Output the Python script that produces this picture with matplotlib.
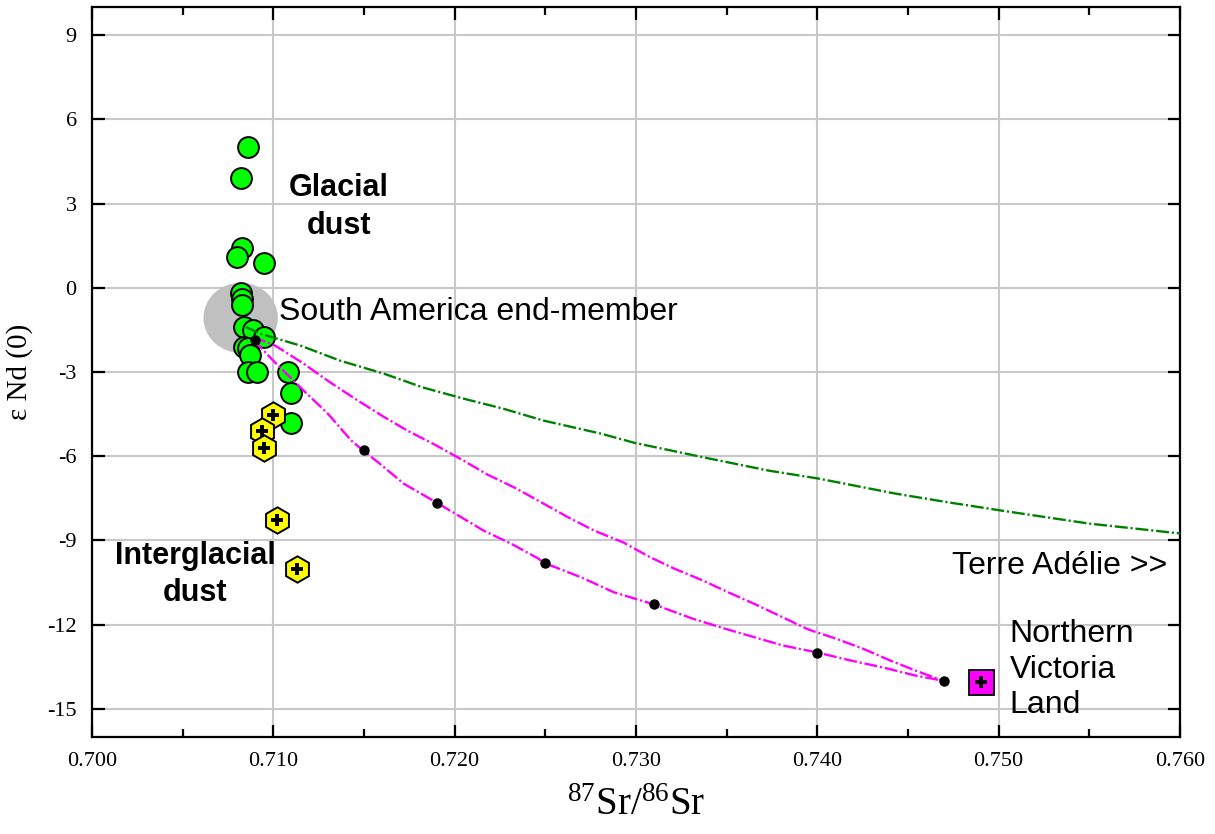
import matplotlib
matplotlib.use("Agg")
from matplotlib import pyplot as plt
from matplotlib.patches import Ellipse

# glacial dust samples (87Sr/86Sr, eps Nd)
glacial_sr = [0.7086, 0.7082, 0.7083, 0.7080, 0.7095, 0.7082, 0.7083, 0.7083,
              0.7084, 0.7089, 0.7095, 0.7084, 0.7086, 0.7087, 0.7086, 0.7091,
              0.7108, 0.7110, 0.7110]
glacial_nd = [5.0, 3.9, 1.4, 1.1, 0.9, -0.2, -0.4, -0.6,
              -1.4, -1.5, -1.75, -2.1, -2.15, -2.4, -3.0, -3.0,
              -3.0, -3.75, -4.8]

# interglacial dust samples
inter_sr = [0.7100, 0.70935, 0.70946, 0.71023, 0.71128]
inter_nd = [-4.52, -5.09, -5.69, -8.26, -10.0]

# Northern Victoria Land source
nvl_sr = [0.749]
nvl_nd = [-14.05]

# mixing line to Terre Adelie
green_sr = [0.7085, 0.7093, 0.7115, 0.7137, 0.7161, 0.7183, 0.7205, 0.7227,
            0.7249, 0.7281, 0.7299, 0.7338, 0.7373, 0.7401, 0.7443, 0.7473,
            0.7502, 0.7550, 0.7600]
green_nd = [-1.4, -1.64, -2.06, -2.60, -3.06, -3.56, -3.95, -4.31,
            -4.73, -5.20, -5.52, -6.05, -6.51, -6.80, -7.33, -7.65,
            -7.94, -8.40, -8.75]

# mixing lines to Northern Victoria Land
upper_sr = [0.7089, 0.7101, 0.7116, 0.7130, 0.7145, 0.7160, 0.7174, 0.7190,
            0.7205, 0.7218, 0.7234, 0.7248, 0.7263, 0.7277, 0.7293, 0.7307,
            0.7321, 0.7337, 0.7351, 0.7366, 0.7381, 0.7395, 0.7410, 0.7425,
            0.7440, 0.7454, 0.7469]
upper_nd = [-1.75, -2.06, -2.67, -3.31, -3.95, -4.56, -5.09, -5.62,
            -6.16, -6.65, -7.15, -7.65, -8.19, -8.65, -9.07, -9.57,
            -10.0, -10.43, -10.85, -11.28, -11.74, -12.17, -12.49, -12.85,
            -13.27, -13.63, -13.99]

lower_sr = [0.7089, 0.7100, 0.7118, 0.7130, 0.7143, 0.7149, 0.7158, 0.7172,
            0.7190, 0.7202, 0.7216, 0.7231, 0.7246, 0.7249, 0.7270, 0.7288,
            0.7310, 0.7331, 0.7349, 0.7366, 0.7381, 0.7400, 0.7418, 0.7436,
            0.7454, 0.7469]
lower_nd = [-1.85, -2.60, -3.74, -4.48, -5.44, -5.77, -6.23, -6.98,
            -7.65, -8.11, -8.65, -9.11, -9.64, -9.79, -10.32, -10.85,
            -11.28, -11.78, -12.14, -12.46, -12.74, -12.99, -13.27, -13.52,
            -13.81, -13.99]

dots_sr = [0.709, 0.715, 0.719, 0.725, 0.731, 0.740, 0.747]
dots_nd = [-1.85, -5.77, -7.65, -9.79, -11.28, -13.0, -14.0]

xticks = [0.700, 0.710, 0.720, 0.730, 0.740, 0.750, 0.760]
xtick_labels = ["0.700", "0.710", "0.720", "0.730", "0.740", "0.750", "0.760"]
yticks = [9, 6, 3, 0, -3, -6, -9, -12, -15]
ytick_labels = ["9", "6", "3", "0", "-3", "-6", "-9", "-12", "-15"]

plt.rcParams['mathtext.fontset'] = 'custom'
plt.rcParams['mathtext.rm'] = 'Liberation Serif'
plt.rcParams['mathtext.it'] = 'Liberation Serif:italic'

fig = plt.figure(figsize=(12.15, 8.34), dpi=100)
ax = fig.add_axes([0.0757, 0.1163, 0.8955, 0.8753])

ax.add_patch(Ellipse((0.7082, -1.07), 0.0041, 2.5, color='#c0c0c0', zorder=1, lw=0))

ax.plot(glacial_sr, glacial_nd, 'o', color='#00ff00', mec='black', mew=1.4,
        ms=15, zorder=3)
ax.plot(inter_sr, inter_nd, 'h', color='#ffff00', mec='black', mew=1.4,
        ms=19, zorder=3)
ax.plot(inter_sr, inter_nd, '+', color='black', mew=2.8, ms=8.5, zorder=3.1)
ax.plot(nvl_sr, nvl_nd, 's', color='#ff00ff', mec='black', mew=1.3,
        ms=18, zorder=3)
ax.plot(nvl_sr, nvl_nd, '+', color='black', mew=2.8, ms=8.5, zorder=3.1)

dash = (0, (5.5, 1.2, 0.9, 1.2))
ax.plot(green_sr, green_nd, color='#008000', lw=1.7, ls=dash, zorder=4)
ax.plot(upper_sr, upper_nd, color='#ff00ff', lw=1.7, ls=dash, zorder=4)
ax.plot(lower_sr, lower_nd, color='#ff00ff', lw=1.7, ls=dash, zorder=4)
ax.plot(dots_sr, dots_nd, 'o', color='black', ms=6.5, zorder=5)

sans = 'Liberation Sans'
ax.text(0.71361, 2.88, "Glacial\ndust", fontsize=22, fontweight='bold',
        family=sans, ha='center', va='center', linespacing=1.35)
ax.text(0.7057, -10.2, "Interglacial\ndust", fontsize=22, fontweight='bold',
        family=sans, ha='center', va='center', linespacing=1.3)
ax.text(0.71034, -0.85, "South America end-member", fontsize=23,
        family=sans, ha='left', va='center')
ax.text(0.7593, -9.9, "Terre Adélie >>", fontsize=23,
        family=sans, ha='right', va='center')
ax.text(0.7506, -13.6, "Northern\nVictoria\nLand", fontsize=23,
        family=sans, ha='left', va='center', linespacing=1.25)

ax.set_xlim(0.700, 0.760)
ax.set_ylim(-16, 10)
ax.set_xticks(xticks)
ax.set_xticklabels(xtick_labels, family='Liberation Serif', fontsize=16)
ax.set_xticks([0.705, 0.715, 0.725, 0.735, 0.745, 0.755], minor=True)
ax.set_yticks(yticks)
ax.set_yticklabels(ytick_labels, family='Liberation Serif', fontsize=16)
ax.tick_params(which='major', direction='in', length=9, width=1.6,
               top=True, right=True, pad=11)
ax.tick_params(which='minor', direction='in', length=6, width=1.6,
               top=True, right=True)
ax.grid(True, color='#c8c8c8', lw=1.5, zorder=0)
ax.set_axisbelow(True)
for s in ax.spines.values():
    s.set_linewidth(1.6)

ax.set_xlabel(r"$^{87}\mathrm{Sr}/^{86}\mathrm{Sr}$", fontsize=28, labelpad=10)
ax.set_ylabel("ε Nd (0)", family='Liberation Serif', fontsize=21, labelpad=10)

plt.savefig("out.png", dpi=100)
